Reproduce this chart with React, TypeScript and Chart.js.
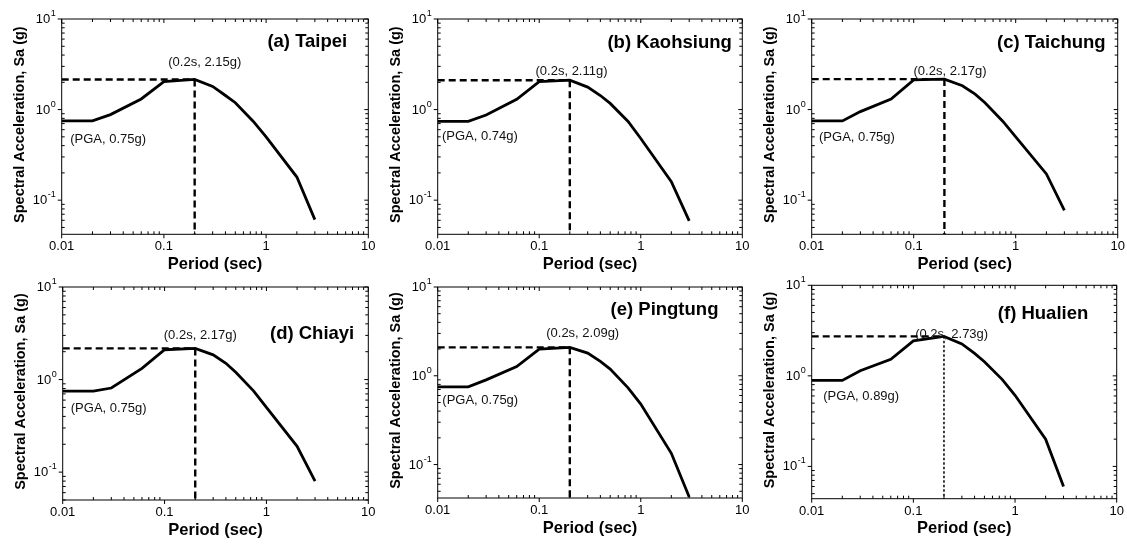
import React, { useEffect, useRef } from "react";
import { Chart, registerables } from "chart.js";

Chart.register(...registerables);

const PAGE_W = 1127;
const PAGE_H = 544;

// ---- data ----
const periods = [0.01, 0.02, 0.03, 0.06, 0.1, 0.2, 0.3, 0.4, 0.5, 0.75, 1, 2, 3];
const taipeiSa = [0.75, 0.75, 0.88, 1.31, 2.04, 2.15, 1.8, 1.43, 1.19, 0.74, 0.5, 0.18, 0.061];
const kaohsiungSa = [0.74, 0.74, 0.87, 1.3, 2.04, 2.11, 1.77, 1.43, 1.17, 0.74, 0.48, 0.16, 0.059];
const taichungSa = [0.75, 0.75, 0.95, 1.31, 2.13, 2.17, 1.83, 1.48, 1.19, 0.74, 0.5, 0.195, 0.077];
const chiayiSa = [0.75, 0.75, 0.81, 1.32, 2.1, 2.17, 1.85, 1.5, 1.2, 0.75, 0.5, 0.19, 0.08];
const pingtungSa = [0.75, 0.75, 0.9, 1.27, 2.0, 2.09, 1.8, 1.45, 1.19, 0.73, 0.48, 0.134, 0.043];
const hualienSa = [0.89, 0.89, 1.14, 1.52, 2.43, 2.73, 2.25, 1.77, 1.43, 0.91, 0.61, 0.2, 0.06];

const seriesList = [taipeiSa, kaohsiungSa, taichungSa, chiayiSa, pingtungSa, hualienSa];
const panelTitles = ["(a) Taipei", "(b) Kaohsiung", "(c) Taichung", "(d) Chiayi", "(e) Pingtung", "(f) Hualien"];
const peakPeriod = 0.2;
const peakSa = [2.15, 2.11, 2.17, 2.17, 2.09, 2.73];
const peakLabels = ["(0.2s, 2.15g)", "(0.2s, 2.11g)", "(0.2s, 2.17g)", "(0.2s, 2.17g)", "(0.2s, 2.09g)", "(0.2s, 2.73g)"];
const pgaLabels = ["(PGA, 0.75g)", "(PGA, 0.74g)", "(PGA, 0.75g)", "(PGA, 0.75g)", "(PGA, 0.75g)", "(PGA, 0.89g)"];
const xMin = 0.01;
const xMax = 10;
const yMax = 10;
const yMins = [0.042, 0.042, 0.042, 0.05, 0.042, 0.044];
const xTickLabels = ["0.01", "0.1", "1", "10"];
const yTickExponents = ["-1", "0", "1"];
const xTitle = "Period (sec)";
const yTitle = "Spectral Acceleration, Sa (g)";

// annotation anchors in data units [period, Sa]
const peakLabelAt = [[0.251, 3.35], [0.208, 2.67], [0.227, 2.66], [0.224, 3.0], [0.268, 2.98], [0.238, 2.86]];
const pgaLabelAt = [[0.0121, 0.472], [0.011, 0.5], [0.0118, 0.489], [0.012, 0.489], [0.0111, 0.53], [0.013, 0.594]];
const titleAt = [[6.22, 5.61], [7.88, 5.44], [7.62, 5.43], [7.28, 3.12], [5.82, 5.47], [5.25, 4.78]];

// ---- layout (page pixels: left, top, right, bottom of each plot box) ----
const plotBoxes = [
  [61.7, 19, 368.3, 234.3],
  [437.7, 19, 742.3, 234.3],
  [811.7, 19, 1117.7, 234.3],
  [62.7, 287, 368.3, 500],
  [437.7, 287, 742.3, 498],
  [811.7, 285.3, 1116.7, 498.7],
];

const FONT = "'Liberation Sans', Arial, Helvetica, sans-serif";

function decadeValues(min: number, max: number) {
  const out: { v: number; major: boolean }[] = [];
  for (let k = -3; k <= 1; k++) {
    for (let m = 1; m <= 9; m++) {
      const v = m * Math.pow(10, k);
      if (v < min * 0.9999 || v > max * 1.0001) continue;
      out.push({ v, major: m === 1 });
    }
  }
  return out;
}

function makeFramePlugin(i: number) {
  return {
    id: "frame" + i,
    afterDraw(chart: any) {
      const ctx = chart.ctx as CanvasRenderingContext2D;
      const { left, top, right, bottom } = chart.chartArea;
      const xs = chart.scales.x;
      const ys = chart.scales.y;
      ctx.save();
      ctx.strokeStyle = "#000";
      ctx.fillStyle = "#000";
      ctx.lineWidth = 1;
      ctx.strokeRect(left, top, right - left, bottom - top);

      // x ticks
      ctx.beginPath();
      for (const t of decadeValues(xMin, xMax)) {
        const px = xs.getPixelForValue(t.v);
        if (t.major) {
          ctx.moveTo(px, bottom);
          ctx.lineTo(px, bottom + 4);
          ctx.moveTo(px, top);
          ctx.lineTo(px, top + 4);
        } else {
          ctx.moveTo(px, bottom);
          ctx.lineTo(px, bottom - 3);
          ctx.moveTo(px, top);
          ctx.lineTo(px, top + 3);
        }
      }
      // y ticks
      for (const t of decadeValues(yMins[i], yMax)) {
        const py = ys.getPixelForValue(t.v);
        if (t.major) {
          ctx.moveTo(left - 4, py);
          ctx.lineTo(left, py);
          ctx.moveTo(right, py);
          ctx.lineTo(right - 4, py);
        } else {
          ctx.moveTo(left, py);
          ctx.lineTo(left + 3, py);
          ctx.moveTo(right, py);
          ctx.lineTo(right - 3, py);
        }
      }
      ctx.stroke();

      // x tick labels
      ctx.font = `13px ${FONT}`;
      ctx.textAlign = "center";
      ctx.textBaseline = "middle";
      xTickLabels.forEach((lab) => {
        const px = xs.getPixelForValue(parseFloat(lab));
        ctx.fillText(lab, px, bottom + 12.5);
      });

      // y tick labels 10^n
      yTickExponents.forEach((e) => {
        const v = Math.pow(10, parseInt(e, 10));
        const py = ys.getPixelForValue(v);
        ctx.font = `9px ${FONT}`;
        const ew = ctx.measureText(e).width;
        ctx.textAlign = "left";
        ctx.textBaseline = "middle";
        const ex = left - 6 - ew;
        ctx.fillText(e, ex, py - 5.5);
        ctx.font = `13px ${FONT}`;
        ctx.textAlign = "right";
        ctx.fillText("10", ex - 0.5, py + 0.5);
      });

      // axis titles
      ctx.font = `bold 16.5px ${FONT}`;
      ctx.textAlign = "center";
      ctx.textBaseline = "middle";
      ctx.fillText(xTitle, (left + right) / 2, bottom + 30);
      ctx.save();
      ctx.translate(left - 42, (top + bottom) / 2 - 2);
      ctx.rotate(-Math.PI / 2);
      ctx.font = `bold 14.5px ${FONT}`;
      ctx.fillText(yTitle, 0, 0);
      ctx.restore();

      // panel title
      ctx.font = `bold 18.5px ${FONT}`;
      ctx.textAlign = "right";
      ctx.fillText(panelTitles[i], xs.getPixelForValue(titleAt[i][0]), ys.getPixelForValue(titleAt[i][1]));

      // annotations
      ctx.font = `13px ${FONT}`;
      ctx.fillStyle = "#111";
      ctx.textAlign = "center";
      ctx.fillText(peakLabels[i], xs.getPixelForValue(peakLabelAt[i][0]), ys.getPixelForValue(peakLabelAt[i][1]));
      ctx.textAlign = "left";
      ctx.fillText(pgaLabels[i], xs.getPixelForValue(pgaLabelAt[i][0]), ys.getPixelForValue(pgaLabelAt[i][1]));
      ctx.restore();
    },
  };
}

function Panel({ index }: { index: number }) {
  const ref = useRef<HTMLCanvasElement | null>(null);
  useEffect(() => {
    const canvas = ref.current;
    if (!canvas) return;
    const [l, t, r, b] = plotBoxes[index];
    const sa = seriesList[index];
    const pk = peakSa[index];
    const ymin = yMins[index];
    const thinVertical = index === 5;
    const chart = new Chart(canvas, {
      type: "line",
      data: {
        datasets: [
          {
            data: periods.map((p, k) => ({ x: p, y: sa[k] })),
            borderColor: "#000",
            borderWidth: 2.8,
            pointRadius: 0,
            tension: 0,
            fill: false,
          },
          {
            data: [
              { x: xMin, y: pk },
              { x: peakPeriod, y: pk },
            ],
            borderColor: "#000",
            borderWidth: 2.4,
            borderDash: [7, 4],
            pointRadius: 0,
            fill: false,
          },
          {
            data: [
              { x: peakPeriod, y: pk },
              { x: peakPeriod, y: ymin },
            ],
            borderColor: "#000",
            borderWidth: thinVertical ? 1.5 : 2.4,
            borderDash: thinVertical ? [2.5, 2] : [7, 4],
            pointRadius: 0,
            fill: false,
          },
        ],
      },
      options: {
        animation: false,
        responsive: false,
        maintainAspectRatio: false,
        events: [],
        layout: { padding: { left: l, top: t, right: PAGE_W - r, bottom: PAGE_H - b } },
        plugins: { legend: { display: false }, tooltip: { enabled: false }, title: { display: false } },
        scales: {
          x: { type: "logarithmic", min: xMin, max: xMax, display: false },
          y: { type: "logarithmic", min: ymin, max: yMax, display: false },
        },
      },
      plugins: [makeFramePlugin(index)],
    } as any);
    return () => chart.destroy();
  }, [index]);
  return (
    <canvas
      ref={ref}
      width={PAGE_W}
      height={PAGE_H}
      style={{ position: "absolute", left: 0, top: 0, width: PAGE_W, height: PAGE_H }}
    />
  );
}

export default function App() {
  return (
    <div style={{ position: "absolute", left: 0, top: 0, width: PAGE_W, height: PAGE_H, background: "#fff", overflow: "hidden" }}>
      {seriesList.map((_, i) => (
        <Panel key={i} index={i} />
      ))}
    </div>
  );
}
